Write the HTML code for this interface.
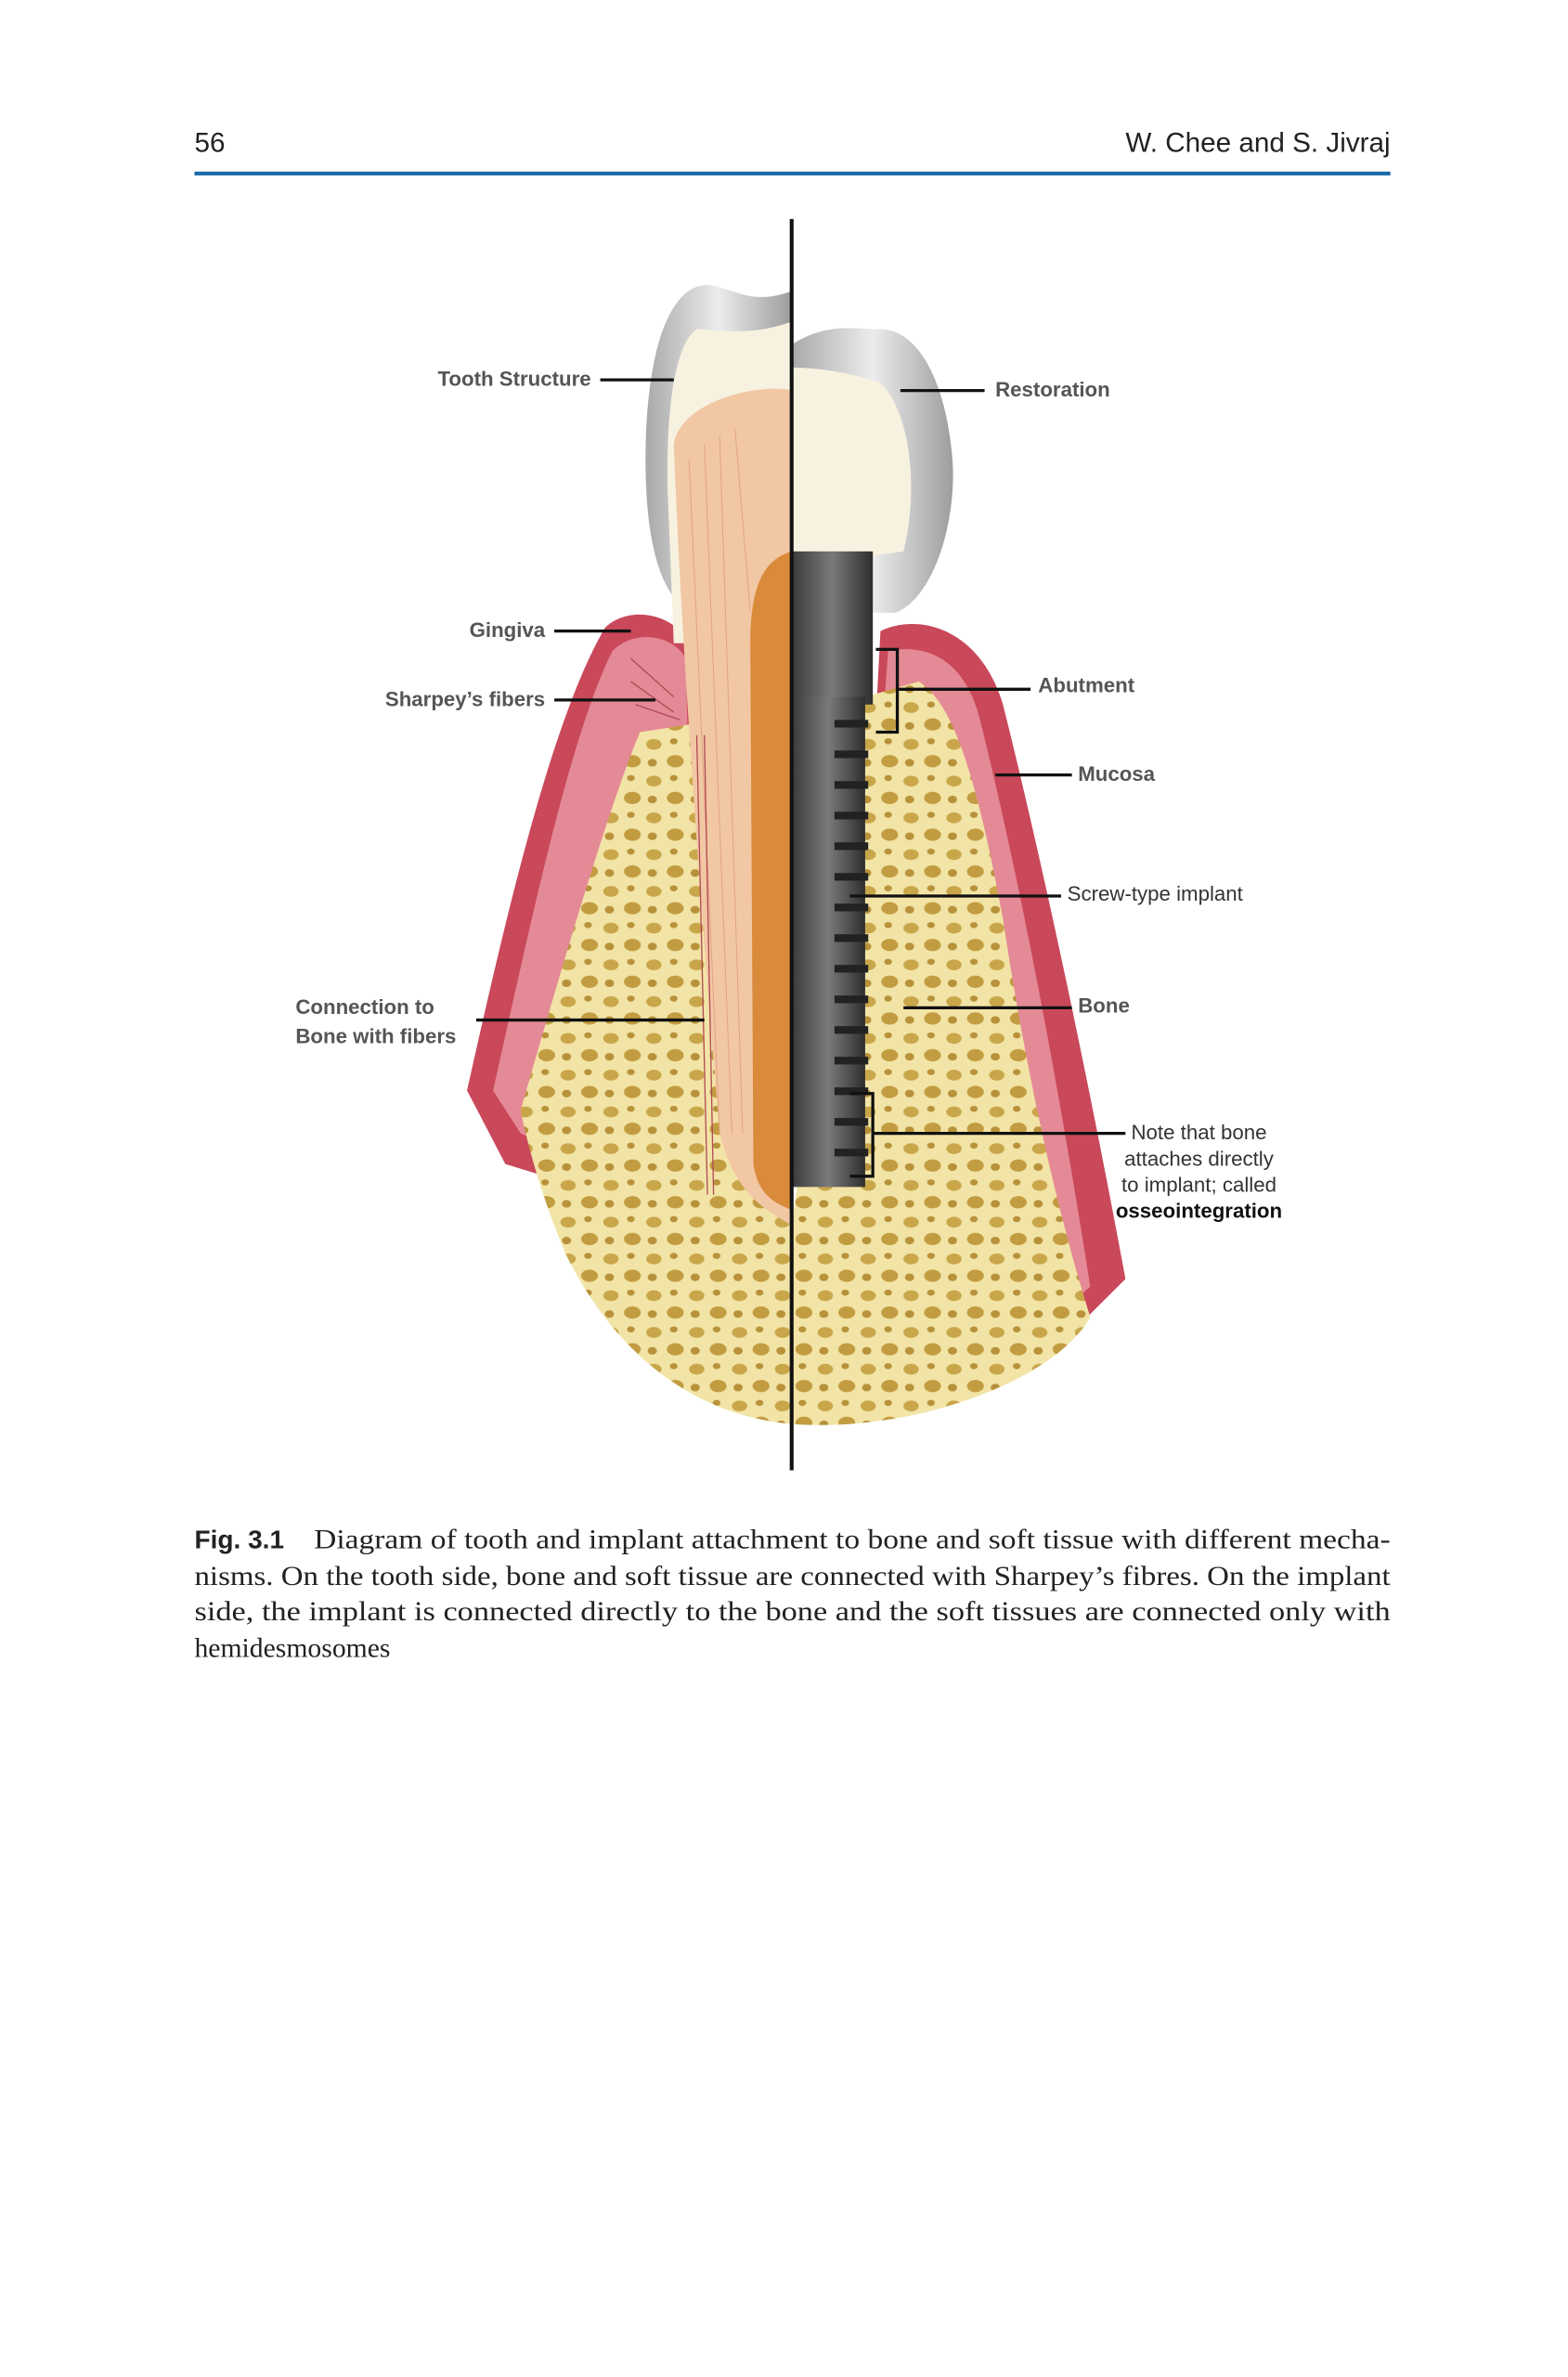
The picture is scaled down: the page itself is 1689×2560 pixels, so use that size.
<!DOCTYPE html>
<html><head><meta charset="utf-8"><style>
html,body{margin:0;padding:0;background:#fff;}
svg{display:block;}
</style></head><body>
<svg width="1689" height="2560" viewBox="0 0 1024 1552" xmlns="http://www.w3.org/2000/svg">
<defs>
<pattern id="holes" width="28" height="24" patternUnits="userSpaceOnUse">
<rect width="28" height="24" fill="#f2e4a6"/>
<ellipse cx="7" cy="6" rx="5" ry="3.5" fill="#c9a64a"/>
<ellipse cx="21" cy="17" rx="5.5" ry="4" fill="#c29c40"/>
<ellipse cx="20" cy="4" rx="2.5" ry="2" fill="#b8923a"/>
<ellipse cx="6" cy="18" rx="3" ry="2.5" fill="#b8923a"/>
</pattern>
<linearGradient id="crown" x1="0" x2="1"><stop offset="0" stop-color="#a9a9a9"/><stop offset="0.5" stop-color="#ececec"/><stop offset="1" stop-color="#9d9d9d"/></linearGradient>
<linearGradient id="impl" x1="0" x2="1"><stop offset="0" stop-color="#3a3a3a"/><stop offset="0.5" stop-color="#7a7a7a"/><stop offset="1" stop-color="#2e2e2e"/></linearGradient>
</defs>
<text x="127" y="99" font-family="Liberation Sans, sans-serif" font-size="18" fill="#222">56</text>
<text x="908" y="99" text-anchor="end" font-family="Liberation Sans, sans-serif" font-size="18" fill="#222">W. Chee and S. Jivraj</text>
<rect x="127" y="112" width="781" height="2.5" fill="#1a6aa8"/>

<path d="M305,712 C330,600 360,470 395,410 C410,395 440,400 450,420 L460,800 L330,760 Z" fill="#c9485a"/>
<path d="M322,712 C345,610 372,480 400,425 C415,410 440,415 448,430 L455,790 L340,740 Z" fill="#e48a96"/>
<path d="M575,412 C600,400 640,410 655,460 C680,560 710,700 735,835 L700,870 L560,700 Z" fill="#c9485a"/>
<path d="M580,425 C605,420 630,430 640,470 C665,570 690,700 712,840 L690,860 L560,700 Z" fill="#e48a96"/>
<path d="M340,725 C370,620 400,520 418,478 L470,470 L517,800 L565,455 L600,445 C625,460 640,520 655,600 C670,700 690,790 712,860 C690,900 600,935 520,930 C450,925 400,880 370,820 C355,785 345,750 340,725 Z" fill="url(#holes)"/>
<path d="M517,190 C490,200 480,188 462,186 C440,186 425,220 422,280 C420,330 425,370 440,390 L517,390 Z" fill="url(#crown)"/>
<path d="M517,210 C490,220 470,215 455,215 C440,225 435,270 436,320 L440,420 L517,420 Z" fill="#f7f2e0"/>
<path d="M440,290 C445,260 500,250 517,255 L517,800 C500,790 480,780 470,740 C458,600 445,420 440,290 Z" fill="#f2c7a4"/>
<path d="M517,360 C500,365 490,380 490,420 L492,760 C495,780 505,785 517,790 Z" fill="#d98a3a"/>
<g stroke="#e0a47e" stroke-width="0.6">
<line x1="450" y1="300" x2="470" y2="740"/><line x1="460" y1="290" x2="478" y2="740"/><line x1="470" y1="285" x2="485" y2="740"/><line x1="480" y1="280" x2="490" y2="400"/>
</g>
<g stroke="#b04a55" stroke-width="0.8">
<line x1="412" y1="430" x2="440" y2="455"/><line x1="412" y1="445" x2="440" y2="465"/><line x1="415" y1="460" x2="444" y2="470"/>
<line x1="455" y1="480" x2="462" y2="780"/><line x1="460" y1="480" x2="466" y2="780"/>
</g>
<path d="M517,225 C540,210 560,215 575,215 C600,215 618,250 622,300 C625,340 610,390 585,400 L517,400 Z" fill="url(#crown)"/>
<path d="M517,240 C540,240 560,245 575,250 C595,270 600,320 590,360 L517,370 Z" fill="#f7f2e0"/>
<rect x="517" y="360" width="53" height="100" fill="url(#impl)"/>
<rect x="517" y="455" width="48" height="320" fill="url(#impl)"/>
<g fill="#222">
<rect x="545" y="470" width="22" height="5"/><rect x="545" y="490" width="22" height="5"/><rect x="545" y="510" width="22" height="5"/><rect x="545" y="530" width="22" height="5"/><rect x="545" y="550" width="22" height="5"/><rect x="545" y="570" width="22" height="5"/><rect x="545" y="590" width="22" height="5"/><rect x="545" y="610" width="22" height="5"/><rect x="545" y="630" width="22" height="5"/><rect x="545" y="650" width="22" height="5"/><rect x="545" y="670" width="22" height="5"/><rect x="545" y="690" width="22" height="5"/><rect x="545" y="710" width="22" height="5"/><rect x="545" y="730" width="22" height="5"/><rect x="545" y="750" width="22" height="5"/>
</g>
<line x1="517" y1="143" x2="517" y2="960" stroke="#111" stroke-width="2.5"/>
<g stroke="#111" stroke-width="2" fill="none">
<line x1="392" y1="248" x2="440" y2="248"/>
<line x1="588" y1="255" x2="643" y2="255"/>
<line x1="362" y1="412" x2="412" y2="412"/>
<line x1="362" y1="457" x2="428" y2="457"/>
<line x1="311" y1="666" x2="460" y2="666"/>
<path d="M572,424 H586 V478 H572"/><line x1="586" y1="450" x2="673" y2="450"/>
<line x1="650" y1="506" x2="700" y2="506"/>
<line x1="555" y1="585" x2="693" y2="585"/>
<line x1="590" y1="658" x2="700" y2="658"/>
<path d="M555,714 H570 V768 H555"/><line x1="570" y1="740" x2="735" y2="740"/>
</g>
<g font-family="Liberation Sans, sans-serif" font-size="13.5" font-weight="bold" fill="#555">
<text x="386" y="252" text-anchor="end">Tooth Structure</text>
<text x="650" y="259">Restoration</text>
<text x="356" y="416" text-anchor="end">Gingiva</text>
<text x="356" y="461" text-anchor="end">Sharpey’s fibers</text>
<text x="193" y="662">Connection to</text>
<text x="193" y="681">Bone with fibers</text>
<text x="678" y="452">Abutment</text>
<text x="704" y="510">Mucosa</text>
<text x="697" y="588" font-weight="normal" fill="#333">Screw-type implant</text>
<text x="704" y="661">Bone</text>
</g>
<g font-family="Liberation Sans, sans-serif" font-size="13.5" fill="#333" text-anchor="middle">
<text x="783" y="744">Note that bone</text>
<text x="783" y="761">attaches directly</text>
<text x="783" y="778">to implant; called</text>
<text x="783" y="795" font-weight="bold" fill="#111">osseointegration</text>
</g>
<g font-family="Liberation Serif, serif" font-size="18" fill="#222">
<text x="127" y="1011" font-family="Liberation Sans, sans-serif" font-weight="bold" font-size="17">Fig. 3.1</text>
<text x="205" y="1011" textLength="703" lengthAdjust="spacingAndGlyphs">Diagram of tooth and implant attachment to bone and soft tissue with different mecha-</text>
<text x="127" y="1035" textLength="781" lengthAdjust="spacingAndGlyphs">nisms. On the tooth side, bone and soft tissue are connected with Sharpey’s fibres. On the implant</text>
<text x="127" y="1058" textLength="781" lengthAdjust="spacingAndGlyphs">side, the implant is connected directly to the bone and the soft tissues are connected only with</text>
<text x="127" y="1082">hemidesmosomes</text>
</g>
</svg>
</body></html>
